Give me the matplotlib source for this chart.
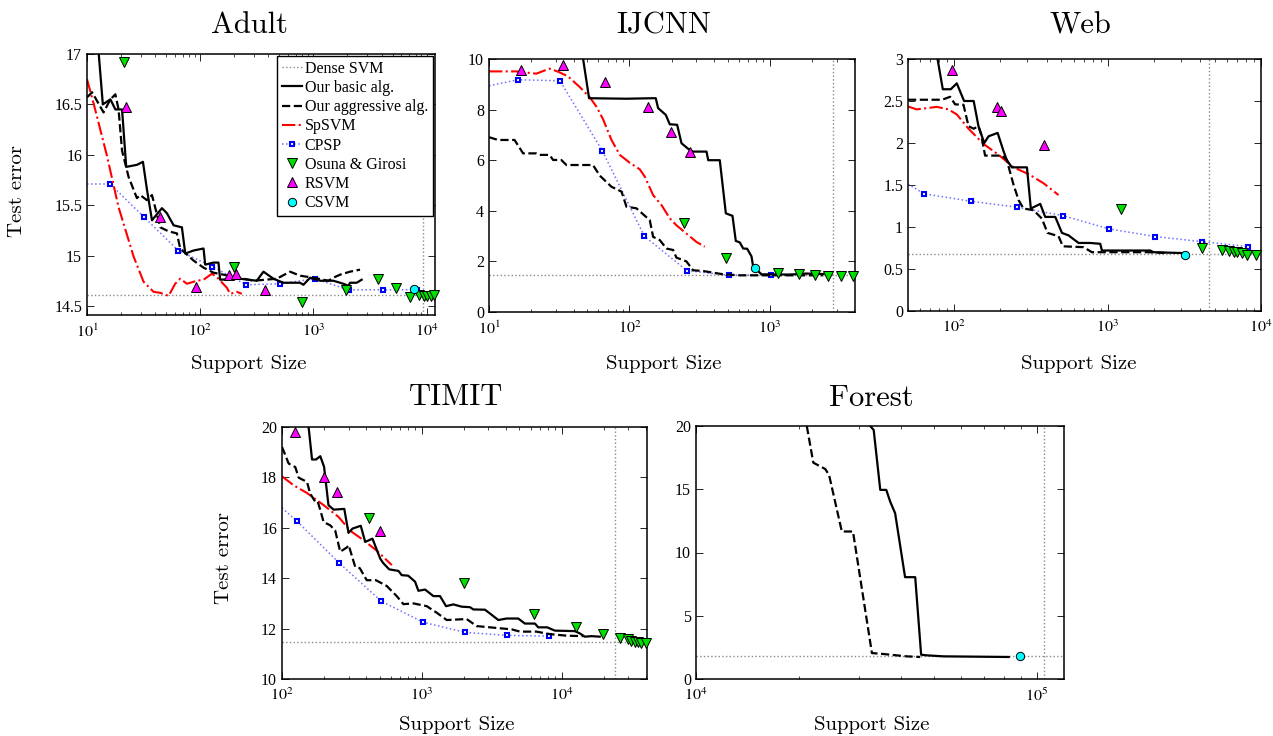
import numpy as np
import matplotlib
matplotlib.use('Agg')
import matplotlib.pyplot as plt
from matplotlib.ticker import LogLocator, NullFormatter

# ======================= DATA =======================
# ---------- Adult ----------
adult_dense_err = 14.61
adult_dense_sv = 9220
adult_basic_x = [12.7, 13.8, 16.1, 17.8, 20.4, 22.2, 27.6, 31.2, 33.8, 37.5, 45.9, 50.8, 58.2, 68.9,
                 73.8, 87.4, 107, 110.7, 131, 145, 150, 225, 316, 362, 443, 543, 762, 816, 935,
                 1146, 1500, 1840, 2037, 2108, 2412, 2667]
adult_basic_y = [17.0, 16.5, 16.55, 16.45, 16.45, 15.88, 15.9, 15.93, 15.66, 15.35, 15.47, 15.42, 15.3,
                 15.28, 15.02, 15.05, 15.07, 14.91, 14.93, 14.93, 14.76, 14.77, 14.75, 14.84, 14.77,
                 14.73, 14.73, 14.71, 14.78, 14.75, 14.75, 14.72, 14.70, 14.73, 14.73, 14.76]
adult_aggr_x = [10, 11.1, 14.0, 16.1, 17.8, 19.0, 20.4, 23.3, 27.6, 29.5, 33.8, 37.5, 44.4, 52.6, 62.2,
                66.6, 87.4, 107, 131, 197, 296, 475, 622, 762, 1000, 1356, 1500, 1718, 2108, 2582]
adult_aggr_y = [16.57, 16.62, 16.42, 16.55, 16.6, 16.45, 16.04, 15.78, 15.57, 15.6, 15.55, 15.6, 15.28,
                15.24, 15.22, 15.07, 14.95, 14.88, 14.83, 14.79, 14.75, 14.77, 14.84, 14.8, 14.78,
                14.75, 14.78, 14.81, 14.84, 14.86]
adult_spsvm_x = [10, 11.5, 15.0, 19.0, 25.8, 31.6, 38.7, 44.4, 52.6, 60.1, 66.6, 76.3, 93.5, 107, 127,
                 145, 172, 184, 211, 233]
adult_spsvm_y = [16.75, 16.5, 15.99, 15.48, 14.99, 14.74, 14.64, 14.63, 14.6, 14.72, 14.77, 14.72, 14.75,
                 14.76, 14.82, 14.77, 14.68, 14.62, 14.64, 14.62]
adult_cpsp_x = [10, 16, 32, 64, 128, 256, 512, 1024, 2048, 4096, 8192]
adult_cpsp_y = [15.71, 15.71, 15.38, 15.05, 14.89, 14.71, 14.72, 14.77, 14.66, 14.66, 14.66]
adult_osuna_x = [21.3, 200, 789, 1929, 3700, 5370, 7130, 8610, 9460, 10130, 10840, 11690]
adult_osuna_y = [16.92, 14.89, 14.54, 14.66, 14.77, 14.68, 14.59, 14.61, 14.6, 14.6, 14.6, 14.61]
adult_rsvm_x = [22.2, 44.4, 91, 181, 208, 370]
adult_rsvm_y = [16.47, 15.38, 14.69, 14.81, 14.82, 14.66]
adult_csvm_x = [7730]
adult_csvm_y = [14.67]

# ---------- IJCNN ----------
ijcnn_dense_err = 1.45
ijcnn_dense_sv = 2800
ijcnn_basic_x = [46.8, 51.6, 95.3, 147.6, 154, 160, 181.6, 193.7, 218.6, 234.9, 262, 284, 354, 364, 440,
                 486, 542, 572, 611, 646, 689, 740, 760, 873, 1390, 1826, 2400]
ijcnn_basic_y = [10.0, 8.45, 8.43, 8.45, 8.45, 8.06, 7.79, 7.42, 7.40, 6.67, 6.45, 6.34, 6.34, 6.0, 6.0,
                 3.9, 3.8, 2.81, 2.75, 2.51, 2.5, 2.2, 1.8, 1.49, 1.48, 1.52, 1.5]
ijcnn_aggr_x = [10, 11.6, 15.2, 17.5, 21.7, 23, 27, 28.6, 32.7, 35.6, 55, 61.5, 74.5, 87.8, 95.3, 112,
                139.6, 147.5, 164.6, 183.5, 204.8, 216, 254.6, 284, 335, 465, 611, 1057, 2400]
ijcnn_aggr_y = [6.91, 6.8, 6.8, 6.27, 6.27, 6.21, 6.21, 6.01, 6.01, 5.81, 5.81, 5.39, 4.95, 4.76, 4.16,
                4.1, 3.63, 2.97, 2.84, 2.51, 2.45, 2.15, 2.0, 1.65, 1.62, 1.49, 1.45, 1.45, 1.45]
ijcnn_spsvm_x = [10, 15.7, 21.7, 27, 31, 36.6, 44.3, 52.1, 58.2, 64.9, 74.5, 85.4, 100.5, 118.5, 128.6,
                 147.5, 169, 194, 216, 254.6, 300, 344]
ijcnn_spsvm_y = [9.51, 9.51, 9.42, 9.62, 9.5, 9.31, 8.89, 8.49, 8.12, 7.62, 6.8, 6.21, 5.9, 5.64, 5.35,
                 4.62, 4.23, 3.7, 3.43, 3.1, 2.77, 2.58]
ijcnn_cpsp_x = [10, 16, 32, 64, 128, 256, 512, 1024]
ijcnn_cpsp_y = [8.94, 9.18, 9.14, 6.38, 2.99, 1.64, 1.45, 1.47]
ijcnn_osuna_x = [245, 486, 1146, 1610, 2090, 2605, 3208, 3926]
ijcnn_osuna_y = [3.53, 2.15, 1.55, 1.49, 1.45, 1.41, 1.41, 1.41]
ijcnn_rsvm_x = [16.8, 33.6, 67.5, 135, 199, 272]
ijcnn_rsvm_y = [9.58, 9.75, 9.11, 8.12, 7.13, 6.34]
ijcnn_csvm_x = [785]
ijcnn_csvm_y = [1.74]

# ---------- Web ----------
web_dense_err = 0.675
web_dense_sv = 4600
web_basic_x = [77.9, 84.3, 95, 104, 116, 134, 144, 157, 167.6, 192, 210, 220, 237.6, 298, 316, 364, 392,
               456, 504, 557, 585, 647, 771, 896, 918, 1897, 1990, 3055]
web_basic_y = [3.0, 2.64, 2.64, 2.71, 2.5, 2.5, 2.2, 2.0, 2.08, 2.12, 1.9, 1.8, 1.71, 1.71, 1.22, 1.275,
               1.12, 1.12, 0.93, 0.9, 0.87, 0.81, 0.81, 0.8, 0.72, 0.72, 0.7, 0.69]
web_aggr_x = [50, 83.5, 94, 101.5, 115, 124, 134, 144, 150, 159, 205, 220, 244, 263, 283, 329, 373, 406,
              479, 511, 697, 790, 1806, 2500]
web_aggr_y = [2.515, 2.515, 2.55, 2.46, 2.455, 2.2, 2.17, 2.2, 2.1, 1.85, 1.85, 1.8, 1.5, 1.32, 1.22,
              1.2, 1.1, 0.93, 0.89, 0.77, 0.76, 0.70, 0.70, 0.69]
web_spsvm_x = [50, 57, 77, 91.8, 104, 124, 155, 194.5, 244, 305, 383, 479]
web_spsvm_y = [2.435, 2.40, 2.43, 2.40, 2.34, 2.17, 1.99, 1.86, 1.71, 1.63, 1.52, 1.38]
web_cpsp_x = [50, 64, 128, 256, 512, 1024, 2048, 4096, 8192]
web_cpsp_y = [1.51, 1.395, 1.307, 1.236, 1.136, 0.977, 0.886, 0.826, 0.767]
web_osuna_x = [1222, 4130, 5570, 6150, 6630, 6970, 7510, 8090, 9310]
web_osuna_y = [1.21, 0.747, 0.727, 0.71, 0.70, 0.70, 0.69, 0.667, 0.667]
web_rsvm_x = [96.6, 190.6, 200.5, 386]
web_rsvm_y = [2.87, 2.43, 2.38, 1.98]
web_csvm_x = [3210]
web_csvm_y = [0.667]

# ---------- TIMIT ----------
timit_dense_err = 11.47
timit_dense_sv = 24000
timit_basic_x = [155, 164, 175, 188, 200, 215, 234, 279, 299, 320, 366, 394, 444, 504, 530, 585, 681, 719,
                 800, 896, 946, 1056, 1211, 1351, 1492, 1683, 1930, 2213, 2339, 2833, 3075, 3530, 4046,
                 4900, 5470, 6455, 6815, 7900, 8960, 12450, 13520, 14680, 16380, 18780]
timit_basic_y = [20.0, 18.71, 18.71, 18.84, 18.42, 16.9, 16.72, 16.75, 15.8, 15.97, 16.08, 15.44, 15.57,
                 14.78, 14.6, 14.35, 14.29, 14.12, 14.1, 13.86, 13.5, 13.55, 13.29, 13.29, 12.89, 12.96,
                 12.87, 12.85, 12.76, 12.75, 12.6, 12.34, 12.4, 12.4, 12.2, 12.2, 12.05, 12.05, 11.92,
                 11.9, 11.81, 11.68, 11.7, 11.68]
timit_aggr_x = [100, 111.6, 124.5, 131.5, 151, 159, 173, 180, 188, 198.5, 221, 240, 261, 291, 300, 334,
                360, 404, 470, 562, 662, 739, 871, 1086, 1280, 1509, 2094, 2470, 3075, 4395, 5040, 6620,
                8260, 10860, 14290]
timit_aggr_y = [19.21, 18.55, 18.41, 17.99, 17.82, 17.36, 17.03, 17.05, 16.7, 16.23, 16.1, 15.9, 15.05,
                15.22, 15.31, 14.45, 14.4, 13.92, 13.92, 13.69, 13.29, 12.97, 13.0, 12.89, 12.63, 12.34,
                12.38, 12.1, 12.05, 11.97, 11.88, 11.88, 11.78, 11.72, 11.7]
timit_spsvm_x = [100, 121, 151, 198.5, 254, 308, 383, 477, 611]
timit_spsvm_y = [18.04, 17.69, 17.38, 16.9, 16.43, 15.88, 15.51, 15.09, 14.52]
timit_cpsp_x = [100, 128, 256, 512, 1024, 2048, 4096, 8192]
timit_cpsp_y = [16.79, 16.26, 14.61, 13.09, 12.25, 11.85, 11.73, 11.7]
timit_osuna_x = [416, 2018, 6380, 12800, 19860, 26100, 29900, 31600, 33400, 35300, 37300, 40500]
timit_osuna_y = [16.37, 13.82, 12.58, 12.05, 11.78, 11.61, 11.57, 11.52, 11.48, 11.45, 11.44, 11.44]
timit_rsvm_x = [123, 198.5, 247, 499]
timit_rsvm_y = [19.8, 18.02, 17.42, 15.87]

# ---------- Forest ----------
forest_dense_err = 1.79
forest_dense_sv = 104600
forest_basic_x = [32430, 33200, 34700, 36140, 37100, 38370, 41030, 43940, 45730, 47530, 53220, 82640]
forest_basic_y = [20.0, 19.68, 14.95, 14.95, 14.03, 13.1, 8.05, 8.05, 1.92, 1.87, 1.79, 1.74]
forest_aggr_x = [21130, 22080, 23930, 24560, 26770, 28860, 32800, 34700, 41500, 45460]
forest_aggr_y = [20.0, 17.1, 16.6, 16.13, 11.66, 11.66, 2.05, 2.0, 1.79, 1.74]
forest_csvm_x = [89400]
forest_csvm_y = [1.79]

# Axis settings
adult_xlim, adult_ylim = (10, 11860), (14.41, 17)
ijcnn_xlim, ijcnn_ylim = (10, 4040), (0, 10)
web_xlim, web_ylim = (50, 10000), (0, 3)
timit_xlim, timit_ylim = (100, 40900), (10, 20)
forest_xlim, forest_ylim = (10000, 120000), (0, 20)

adult_yticks = [14.5, 15, 15.5, 16, 16.5, 17]
adult_yticklabels = ['14.5', '15', '15.5', '16', '16.5', '17']
ijcnn_yticks = [0, 2, 4, 6, 8, 10]
ijcnn_yticklabels = ['0', '2', '4', '6', '8', '10']
web_yticks = [0, 0.5, 1, 1.5, 2, 2.5, 3]
web_yticklabels = ['0', '0.5', '1', '1.5', '2', '2.5', '3']
timit_yticks = [10, 12, 14, 16, 18, 20]
timit_yticklabels = ['10', '12', '14', '16', '18', '20']
forest_yticks = [0, 5, 10, 15, 20]
forest_yticklabels = ['0', '5', '10', '15', '20']

adult_xexp = [1, 2, 3, 4]
ijcnn_xexp = [1, 2, 3]
web_xexp = [2, 3, 4]
timit_xexp = [2, 3, 4]
forest_xexp = [4, 5]

titles = ['Adult', 'IJCNN', 'Web', 'TIMIT', 'Forest']
legend_labels = ['Dense SVM', 'Our basic alg.', 'Our aggressive alg.', 'SpSVM', 'CPSP',
                 'Osuna & Girosi', 'RSVM', 'CSVM']

# ======================= STYLE =======================
plt.rcParams['font.family'] = ['Liberation Serif', 'DejaVu Serif']
plt.rcParams['mathtext.fontset'] = 'stix'
plt.rcParams['xtick.direction'] = 'in'
plt.rcParams['ytick.direction'] = 'in'
plt.rcParams['xtick.top'] = True
plt.rcParams['ytick.right'] = True
plt.rcParams['xtick.major.size'] = 5
plt.rcParams['ytick.major.size'] = 5
plt.rcParams['xtick.minor.size'] = 2.5
plt.rcParams['ytick.minor.size'] = 2.5
plt.rcParams['xtick.major.width'] = 0.6
plt.rcParams['ytick.major.width'] = 0.6
plt.rcParams['xtick.minor.width'] = 0.5
plt.rcParams['xtick.major.pad'] = 6
plt.rcParams['xtick.labelsize'] = 11.5
plt.rcParams['ytick.labelsize'] = 11.5

LABEL_FONT = dict(family=['cmr10', 'Liberation Serif'], size=15)
TITLE_FONT = dict(family=['cmr10', 'Liberation Serif'], size=22)

S_DENSE = dict(color='#8a8a8a', ls=':', lw=1.0)
S_BASIC = dict(color='black', ls='-', lw=1.6)
S_AGGR = dict(color='black', ls='--', lw=1.6)
S_SPSVM = dict(color='red', ls='-.', lw=1.5)
S_CPSP = dict(color='#7070ff', ls=':', lw=1.1, marker='s', ms=3.3, mfc='white', mec='blue', mew=1.5)
S_OSUNA = dict(ls='none', marker='v', ms=7.5, mfc='#00e000', mec='black', mew=0.7)
S_RSVM = dict(ls='none', marker='^', ms=7.5, mfc='#ff00ff', mec='black', mew=0.7)
S_CSVM = dict(ls='none', marker='o', ms=6.0, mfc='cyan', mec='black', mew=0.7)

W, H = 1273, 736
fig = plt.figure(figsize=(W / 100, H / 100), dpi=100)


def px_axes(left, top, right, bottom):
    return fig.add_axes([left / W, 1 - bottom / H, (right - left) / W, (bottom - top) / H])


def setup(ax, xlim, ylim, xexp, yticks, yticklabels):
    ax.set_xscale('log')
    ax.set_xlim(*xlim)
    ax.set_ylim(*ylim)
    ax.set_xticks([10.0 ** e for e in xexp])
    ax.set_xticklabels([r'$10^{%d}$' % e for e in xexp])
    ax.xaxis.set_minor_locator(LogLocator(base=10, subs=np.arange(2, 10)))
    ax.xaxis.set_minor_formatter(NullFormatter())
    ax.set_yticks(yticks)
    ax.set_yticklabels(yticklabels)
    for s in ax.spines.values():
        s.set_linewidth(1.1)


def dense(ax, err, sv):
    ax.axhline(err, zorder=1, **S_DENSE)
    ax.axvline(sv, zorder=1, **S_DENSE)


# ---------- Adult ----------
ax = px_axes(87, 54, 435, 315)
setup(ax, adult_xlim, adult_ylim, adult_xexp, adult_yticks, adult_yticklabels)
dense(ax, adult_dense_err, adult_dense_sv)
h_cpsp, = ax.plot(adult_cpsp_x, adult_cpsp_y, markevery=slice(1, None), zorder=2, **S_CPSP)
h_sp, = ax.plot(adult_spsvm_x, adult_spsvm_y, zorder=2, **S_SPSVM)
h_ag, = ax.plot(adult_aggr_x, adult_aggr_y, zorder=3, **S_AGGR)
h_ba, = ax.plot(adult_basic_x, adult_basic_y, zorder=3, **S_BASIC)
h_os, = ax.plot(adult_osuna_x, adult_osuna_y, zorder=5, clip_on=False, **S_OSUNA)
h_rs, = ax.plot(adult_rsvm_x, adult_rsvm_y, zorder=5, clip_on=False, **S_RSVM)
h_cs, = ax.plot(adult_csvm_x, adult_csvm_y, zorder=5, clip_on=False, **S_CSVM)
h_de, = ax.plot([], [], **S_DENSE)
leg = ax.legend([h_de, h_ba, h_ag, h_sp, h_cpsp, h_os, h_rs, h_cs], legend_labels,
                loc='upper right', bbox_to_anchor=(0.993, 0.992), borderaxespad=0,
                fontsize=11.5, frameon=True, fancybox=False, edgecolor='black',
                framealpha=1, handlelength=1.25, handletextpad=0.15, labelspacing=0.2,
                borderpad=0.3, numpoints=1)
leg.get_frame().set_linewidth(1.0)
leg.set_zorder(10)

# ---------- IJCNN ----------
ax = px_axes(489, 59, 855, 312)
setup(ax, ijcnn_xlim, ijcnn_ylim, ijcnn_xexp, ijcnn_yticks, ijcnn_yticklabels)
dense(ax, ijcnn_dense_err, ijcnn_dense_sv)
ax.plot(ijcnn_cpsp_x, ijcnn_cpsp_y, markevery=slice(1, None), zorder=2, **S_CPSP)
ax.plot(ijcnn_spsvm_x, ijcnn_spsvm_y, zorder=2, **S_SPSVM)
ax.plot(ijcnn_aggr_x, ijcnn_aggr_y, zorder=3, **S_AGGR)
ax.plot(ijcnn_basic_x, ijcnn_basic_y, zorder=3, **S_BASIC)
ax.plot(ijcnn_osuna_x, ijcnn_osuna_y, zorder=5, clip_on=False, **S_OSUNA)
ax.plot(ijcnn_rsvm_x, ijcnn_rsvm_y, zorder=5, clip_on=False, **S_RSVM)
ax.plot(ijcnn_csvm_x, ijcnn_csvm_y, zorder=5, clip_on=False, **S_CSVM)

# ---------- Web ----------
ax = px_axes(908, 59, 1261, 311)
setup(ax, web_xlim, web_ylim, web_xexp, web_yticks, web_yticklabels)
dense(ax, web_dense_err, web_dense_sv)
ax.plot(web_cpsp_x, web_cpsp_y, markevery=slice(1, None), zorder=2, **S_CPSP)
ax.plot(web_spsvm_x, web_spsvm_y, zorder=2, **S_SPSVM)
ax.plot(web_aggr_x, web_aggr_y, zorder=3, **S_AGGR)
ax.plot(web_basic_x, web_basic_y, zorder=3, **S_BASIC)
ax.plot(web_osuna_x, web_osuna_y, zorder=5, clip_on=False, **S_OSUNA)
ax.plot(web_rsvm_x, web_rsvm_y, zorder=5, clip_on=False, **S_RSVM)
ax.plot(web_csvm_x, web_csvm_y, zorder=5, clip_on=False, **S_CSVM)

# ---------- TIMIT ----------
ax = px_axes(282, 427, 647, 679)
setup(ax, timit_xlim, timit_ylim, timit_xexp, timit_yticks, timit_yticklabels)
dense(ax, timit_dense_err, timit_dense_sv)
ax.plot(timit_cpsp_x, timit_cpsp_y, markevery=slice(1, None), zorder=2, **S_CPSP)
ax.plot(timit_spsvm_x, timit_spsvm_y, zorder=2, **S_SPSVM)
ax.plot(timit_aggr_x, timit_aggr_y, zorder=3, **S_AGGR)
ax.plot(timit_basic_x, timit_basic_y, zorder=3, **S_BASIC)
ax.plot(timit_osuna_x, timit_osuna_y, zorder=5, clip_on=False, **S_OSUNA)
ax.plot(timit_rsvm_x, timit_rsvm_y, zorder=5, clip_on=False, **S_RSVM)

# ---------- Forest ----------
ax = px_axes(696, 426, 1064, 679)
setup(ax, forest_xlim, forest_ylim, forest_xexp, forest_yticks, forest_yticklabels)
dense(ax, forest_dense_err, forest_dense_sv)
ax.plot(forest_aggr_x, forest_aggr_y, zorder=3, **S_AGGR)
ax.plot(forest_basic_x, forest_basic_y, zorder=3, **S_BASIC)
ax.plot(forest_csvm_x, forest_csvm_y, zorder=5, clip_on=False, **S_CSVM)

# ---------- Titles and labels (pixel placed) ----------
title_pos = [(250, 33), (664, 33), (1080, 33), (456, 405), (871, 406)]
for t, (x, y) in zip(titles, title_pos):
    fig.text(x / W, 1 - y / H, t, ha='center', va='baseline', **TITLE_FONT)

xlabel_pos = [(249, 369), (664, 369), (1079, 369), (457, 730), (872, 730)]
for (x, y) in xlabel_pos:
    fig.text(x / W, 1 - y / H, 'Support Size', ha='center', va='baseline', **LABEL_FONT)

ylabel_pos = [(17.5, 191), (224.5, 558)]
for (x, y) in ylabel_pos:
    fig.text(x / W, 1 - y / H, 'Test error', ha='center', va='center', rotation=90, **LABEL_FONT)

fig.savefig('out.png', dpi=100)
